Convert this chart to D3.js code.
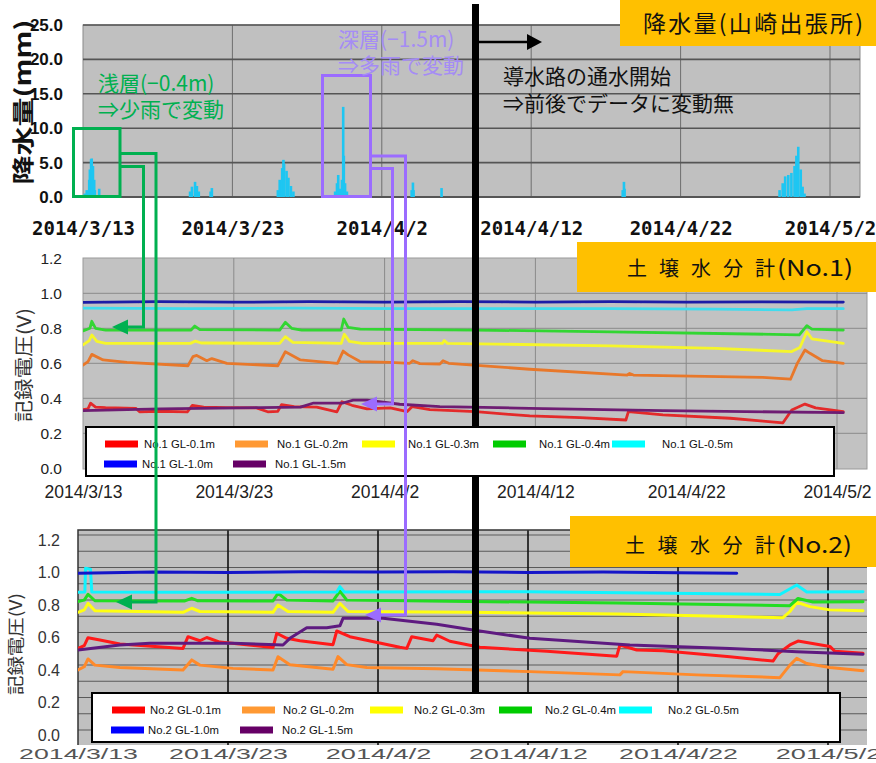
<!DOCTYPE html>
<html><head><meta charset="utf-8">
<script src="https://cdn.jsdelivr.net/npm/d3@7"></script>
<style>body{margin:0;background:#fff}svg{display:block}</style>
</head><body>
<svg id="c" width="876" height="763"></svg>
<script>
const P = s => d3.timeParse("%Y/%m/%d %H")("2014/" + s);

// ---- shared time ticks ----
const tickDates = ["3/13 00","3/23 00","4/2 00","4/12 00","4/22 00","5/2 00"];

// ---- rainfall (mm/h), 山崎出張所 ----
const rainTimes = ["3/13 03","3/13 06","3/13 10","3/13 11","3/13 13","3/13 14","3/13 16","3/13 18","3/13 19","3/14 02",
  "3/20 04","3/20 07","3/20 12","3/20 15","3/20 18","3/21 13","3/21 15",
  "3/26 01","3/26 04","3/26 08","3/26 10","3/26 11","3/26 15","3/26 18","3/26 22","3/27 02",
  "3/29 21","3/30 00","3/30 02","3/30 05","3/30 08","3/30 10","3/30 11","3/30 13","3/30 16",
  "4/4 00","4/4 02","4/4 03","4/6 00",
  "4/18 03","4/18 05","4/18 06",
  "4/28 15","4/28 20","4/29 00","4/29 05","4/29 10","4/29 15","4/29 18","4/29 21","4/30 01","4/30 04","4/30 07"];
const rainValues = [0.5,1.0,2.5,4.0,5.5,5.6,4.5,2.5,1.0,1.2,
  0.8,1.5,2.2,1.6,0.8,0.8,1.3,
  1.0,2.5,4.2,5.4,4.8,3.8,2.8,1.6,0.8,
  0.8,2.0,3.2,1.2,2.5,13.1,6.0,2.0,0.8,
  1.0,2.1,1.0,1.3,
  1.0,2.2,1.2,
  1.0,2.0,3.0,3.2,3.5,4.5,6.0,7.3,4.0,1.5,0.5];
const rainTicks = [0,5,10,15,20,25];

// ---- soil moisture meter No.1 (V) ----
const n1_010 = [["3/13 00",0.335],["3/13 08",0.34],["3/13 12",0.372],["3/13 20",0.35],["3/14 12",0.347],["3/16 12",0.343],["3/16 18",0.323],["3/18 00",0.326],["3/19 22",0.323],["3/20 06",0.36],["3/21 00",0.35],["3/22 12",0.347],["3/24 12",0.345],["3/25 06",0.323],["3/25 22",0.325],["3/26 04",0.364],["3/27 00",0.352],["3/28 12",0.35],["3/29 20",0.323],["3/30 04",0.38],["3/30 20",0.36],["3/31 20",0.34],["4/2 09",0.345],["4/3 12",0.324],["4/3 20",0.353],["4/5 00",0.335],["4/8 01",0.324],["4/11 15",0.299],["4/15 00",0.29],["4/18 00",0.276],["4/18 04",0.324],["4/20 11",0.305],["4/24 22",0.286],["4/28 10",0.26],["4/29 00",0.333],["4/29 21",0.367],["4/30 14",0.345],["5/2 10",0.324]];
const n1_020 = [["3/13 00",0.59],["3/13 08",0.61],["3/13 14",0.651],["3/14 08",0.619],["3/15 22",0.605],["3/19 23",0.586],["3/20 07",0.638],["3/20 13",0.645],["3/21 05",0.615],["3/21 13",0.627],["3/22 13",0.60],["3/25 22",0.586],["3/26 10",0.666],["3/27 10",0.619],["3/29 21",0.60],["3/30 06",0.67],["3/30 14",0.648],["3/31 09",0.61],["4/2 09",0.605],["4/3 16",0.60],["4/3 21",0.615],["4/4 08",0.598],["4/5 16",0.596],["4/5 21",0.615],["4/6 06",0.60],["4/11 15",0.566],["4/18 02",0.533],["4/18 06",0.542],["4/18 12",0.533],["4/27 02",0.52],["4/28 22",0.509],["4/29 09",0.601],["4/29 21",0.676],["4/30 05",0.657],["5/1 01",0.615],["5/2 10",0.60]];
const n1_030 = [["3/13 00",0.705],["3/13 10",0.73],["3/13 14",0.762],["3/13 22",0.725],["3/14 12",0.714],["3/20 03",0.714],["3/20 11",0.727],["3/20 20",0.716],["3/26 01",0.714],["3/26 10",0.752],["3/26 22",0.72],["3/30 03",0.714],["3/30 08",0.766],["3/30 16",0.725],["3/31 12",0.714],["4/5 20",0.714],["4/5 23",0.73],["4/6 04",0.714],["4/17 00",0.70],["4/24 00",0.685],["4/29 00",0.667],["4/29 13",0.69],["4/30 00",0.78],["4/30 08",0.74],["5/2 10",0.714]];
const n1_040 = [["3/13 00",0.785],["3/13 11",0.80],["3/13 14",0.84],["3/13 20",0.80],["3/14 12",0.79],["3/20 04",0.79],["3/20 10",0.813],["3/20 18",0.793],["3/26 01",0.79],["3/26 10",0.834],["3/26 20",0.80],["3/27 12",0.79],["3/30 03",0.79],["3/30 07",0.853],["3/30 14",0.805],["3/31 09",0.795],["4/8 00",0.79],["4/17 00",0.78],["4/29 12",0.763],["4/30 00",0.815],["4/30 08",0.795],["5/2 10",0.79]];
const n1_050 = [["3/13 00",0.915],["3/20 00",0.912],["3/27 00",0.915],["4/3 00",0.913],["4/10 00",0.913],["4/17 00",0.912],["4/24 00",0.91],["4/29 00",0.905],["4/30 00",0.912],["5/2 10",0.912]];
const n1_100 = [["3/13 00",0.948],["3/18 00",0.952],["3/23 00",0.949],["3/28 00",0.952],["4/2 00",0.95],["4/7 00",0.952],["4/12 00",0.95],["4/17 00",0.952],["4/22 00",0.95],["4/27 00",0.951],["5/2 10",0.95]];
const n1_150 = [["3/13 00",0.33],["3/18 03",0.339],["3/24 18",0.347],["3/27 10",0.35],["3/28 07",0.373],["3/30 06",0.373],["3/30 22",0.39],["3/31 20",0.39],["4/3 00",0.366],["4/5 16",0.353],["4/11 15",0.343],["4/20 11",0.329],["5/2 10",0.318]];

// ---- soil moisture meter No.2 (V) ----
const n2_010 = [["3/13 00",0.533],["3/13 10",0.55],["3/13 16",0.599],["3/14 11",0.585],["3/15 19",0.56],["3/20 00",0.533],["3/20 08",0.605],["3/21 03",0.58],["3/21 14",0.60],["3/22 11",0.572],["3/26 00",0.538],["3/26 06",0.626],["3/26 22",0.595],["3/27 19",0.58],["3/30 00",0.556],["3/30 06",0.64],["3/31 03",0.605],["4/3 11",0.54],["4/3 22",0.533],["4/4 06",0.605],["4/5 16",0.58],["4/5 22",0.615],["4/6 19",0.577],["4/8 19",0.54],["4/13 06",0.515],["4/17 22",0.485],["4/18 03",0.554],["4/19 06",0.523],["4/21 00",0.518],["4/25 11",0.482],["4/28 08",0.455],["4/28 16",0.50],["4/29 11",0.554],["4/30 00",0.578],["5/2 03",0.545],["5/2 11",0.515],["5/4 08",0.503]];
const n2_020 = [["3/13 00",0.40],["3/13 10",0.42],["3/13 16",0.468],["3/14 03",0.43],["3/15 19",0.415],["3/20 00",0.40],["3/20 14",0.462],["3/21 03",0.43],["3/23 08",0.41],["3/26 00",0.40],["3/26 08",0.482],["3/27 03",0.433],["3/30 00",0.405],["3/30 08",0.482],["3/30 22",0.433],["4/1 06",0.415],["4/5 22",0.408],["4/12 03",0.39],["4/18 03",0.37],["4/18 08",0.39],["4/23 06",0.37],["4/28 19",0.353],["4/29 11",0.43],["4/29 22",0.472],["4/30 14",0.44],["5/2 03",0.415],["5/4 08",0.396]];
const n2_030 = [["3/13 00",0.755],["3/13 10",0.77],["3/13 16",0.81],["3/14 03",0.765],["3/20 00",0.755],["3/20 14",0.78],["3/21 03",0.76],["3/26 00",0.755],["3/26 08",0.80],["3/27 00",0.76],["3/30 00",0.755],["3/30 11",0.81],["3/31 00",0.76],["4/8 00",0.755],["4/18 00",0.745],["4/29 00",0.722],["4/29 11",0.76],["4/29 22",0.817],["4/30 19",0.79],["5/2 03",0.77],["5/4 08",0.765]];
const n2_040 = [["3/13 00",0.822],["3/13 10",0.83],["3/13 16",0.866],["3/14 03",0.826],["3/20 03",0.825],["3/20 14",0.841],["3/21 00",0.826],["3/26 00",0.825],["3/26 08",0.872],["3/26 22",0.83],["3/30 00",0.825],["3/30 11",0.886],["3/30 22",0.83],["4/8 00",0.822],["4/18 00",0.812],["4/29 11",0.796],["4/30 00",0.84],["5/1 00",0.818],["5/4 08",0.82]];
const n2_050 = [["3/13 00",0.878],["3/13 11",0.88],["3/13 12",1.026],["3/13 20",1.02],["3/13 22",0.88],["3/20 00",0.878],["3/30 06",0.88],["3/30 11",0.913],["3/30 18",0.88],["4/12 00",0.882],["4/28 19",0.865],["4/29 22",0.923],["4/30 14",0.88],["5/4 08",0.882]];
const n2_100 = [["3/13 00",0.995],["3/18 00",1.003],["3/23 00",1.0],["3/28 00",1.005],["4/2 00",1.003],["4/7 00",1.005],["4/12 00",1.0],["4/17 00",1.003],["4/22 00",0.998],["4/25 22",0.995]];
const n2_150 = [["3/13 00",0.523],["3/15 19",0.554],["3/17 19",0.564],["3/23 08",0.564],["3/26 16",0.554],["3/27 03",0.595],["3/28 06",0.66],["3/29 14",0.66],["3/30 11",0.672],["3/30 16",0.718],["4/2 08",0.718],["4/5 22",0.681],["4/8 08",0.646],["4/12 03",0.595],["4/18 19",0.554],["4/25 11",0.533],["4/29 22",0.513],["5/4 08",0.497]];

const voltTicks = [0,0.2,0.4,0.6,0.8,1.0,1.2];
const depthLabels = ["GL-0.1m","GL-0.2m","GL-0.3m","GL-0.4m","GL-0.5m","GL-1.0m","GL-1.5m"];
const legendColors = ["#ff0000","#ff9933","#ffff00","#00cc00","#00ffff","#0000ff","#660066"];
const no1Colors = ["#e32a2a","#e8782c","#f6f62c","#33d633","#3fdcee","#1c1ca6","#6e1f73"];
const no2Colors = ["#ff1a1a","#ff8a2a","#ffff10","#22dd22","#10f4ff","#1414c8","#5e1a80"];

const svg = d3.select("#c");
const CJK = "'Noto Sans CJK JP', 'Noto Sans', sans-serif";
const fmtDate = d3.timeFormat("%Y/%-m/%-d");
const tickT = tickDates.map(P);
const t0 = P("3/13 00"), t1 = P("5/2 00");

const defs = svg.append("defs");
function clip(id, x, y, w, h) {
  defs.append("clipPath").attr("id", id).append("rect").attr("x", x).attr("y", y).attr("width", w).attr("height", h);
  return `url(#${id})`;
}
defs.append("filter").attr("id","soft").append("feGaussianBlur").attr("stdDeviation", 0.45);

function drawLines(g, series, x, y, colors, w) {
  const line = d3.line().x(d => x(d[0])).y(d => y(d[1]));
  series.forEach((s, i) => {
    g.append("path").datum(s.map(([t, v]) => [P(t), v]))
      .attr("fill", "none").attr("stroke", colors[i]).attr("stroke-width", w)
      .attr("stroke-linejoin", "round").attr("stroke-linecap", "round")
      .attr("d", line);
  });
}

// ================= rainfall panel =================
const xTop = d3.scaleTime().domain([t0, t1]).range([83, 830]);
const yTop = d3.scaleLinear().domain([0, 25]).range([197, 25]);
svg.append("rect").attr("x", 83).attr("y", 25).attr("width", 777).attr("height", 172)
  .attr("fill", "#c0c0c0").attr("stroke", "#8a8a8a");
svg.append("g").selectAll("line").data(tickT.slice(1)).join("line")
  .attr("x1", d => xTop(d)).attr("x2", d => xTop(d)).attr("y1", 25).attr("y2", 197)
  .attr("stroke", "#6e6e6e").attr("stroke-width", 1);
svg.append("g").selectAll("line").data(rainTicks).join("line")
  .attr("x1", 83).attr("x2", 860).attr("y1", d => yTop(d)).attr("y2", d => yTop(d))
  .attr("stroke", "#555").attr("stroke-width", d => d === 0 ? 2.2 : 1.6);
svg.append("g").attr("clip-path", clip("cTop", 83, 25, 777, 172))
  .selectAll("rect").data(rainTimes.map((t, i) => [P(t), rainValues[i]])).join("rect")
  .attr("x", d => xTop(d[0]) - 1.3).attr("width", 2.6)
  .attr("y", d => yTop(d[1])).attr("height", d => yTop(0) - yTop(d[1]))
  .attr("fill", "#1ec6f2");

const axTopY = svg.append("g").attr("transform", "translate(63,0)")
  .call(d3.axisLeft(yTop).tickValues(rainTicks).tickFormat(d3.format(".1f")).tickSize(0).tickPadding(0));
axTopY.select(".domain").remove();
axTopY.selectAll("text").attr("font-family", "'Liberation Sans', Arial, sans-serif")
  .attr("font-size", 17).attr("font-weight", "bold").attr("fill", "#111");
const axTopX = svg.append("g").attr("transform", "translate(0,197)")
  .call(d3.axisBottom(xTop).tickValues(tickT).tickFormat(fmtDate).tickSize(0));
axTopX.select(".domain").remove();
axTopX.selectAll("text").attr("y", 38).attr("dy", null)
  .attr("font-family", "'DejaVu Sans Mono', monospace").attr("font-size", 19)
  .attr("font-weight", "bold").attr("fill", "#111");
svg.append("text").attr("transform", "translate(31,102) rotate(-90)")
  .attr("text-anchor", "middle").attr("font-family", CJK).attr("font-size", 22).attr("font-weight", "bold")
  .attr("textLength", 165).attr("lengthAdjust", "spacingAndGlyphs").attr("fill", "#111")
  .text("降水量(mm)");

// ================= soil moisture No.1 =================
const xMid = d3.scaleTime().domain([t0, t1]).range([83, 837]);
const yMid = d3.scaleLinear().domain([0, 1.2]).range([468.3, 258.3]);
svg.append("rect").attr("x", 83).attr("y", 258).attr("width", 784).attr("height", 211)
  .attr("fill", "#c2c2c2").attr("stroke", "#9a9a9a");
svg.append("g").selectAll("line").data(tickT.slice(1)).join("line")
  .attr("x1", d => xMid(d)).attr("x2", d => xMid(d)).attr("y1", 258).attr("y2", 469)
  .attr("stroke", "#8a8a8a");
svg.append("g").selectAll("line").data(voltTicks.slice(1, -1)).join("line")
  .attr("x1", 83).attr("x2", 867).attr("y1", d => yMid(d)).attr("y2", d => yMid(d))
  .attr("stroke", "#8a8a8a");
const gMid = svg.append("g").attr("clip-path", clip("cMid", 83, 258, 784, 211))
  .append("g").attr("filter", "url(#soft)");
drawLines(gMid, [n1_010, n1_020, n1_030, n1_040, n1_050, n1_100, n1_150], xMid, yMid, no1Colors, 2.8);

const axMidY = svg.append("g").attr("transform", "translate(62,0)")
  .call(d3.axisLeft(yMid).tickValues(voltTicks).tickFormat(d3.format(".1f")).tickSize(0).tickPadding(0));
axMidY.select(".domain").remove();
axMidY.selectAll("text").attr("font-family", "'Liberation Sans', Arial, sans-serif")
  .attr("font-size", 15.5).attr("fill", "#222");
const axMidX = svg.append("g").attr("transform", "translate(0,469)")
  .call(d3.axisBottom(xMid).tickValues(tickT).tickFormat(fmtDate).tickSize(0));
axMidX.select(".domain").remove();
axMidX.selectAll("text").attr("y", 29).attr("dy", null)
  .attr("font-family", "'Liberation Sans', Arial, sans-serif").attr("font-size", 17.5).attr("fill", "#222");
svg.append("text").attr("transform", "translate(31,365) rotate(-90)")
  .attr("text-anchor", "middle").attr("font-family", CJK).attr("font-size", 19)
  .attr("textLength", 114).attr("lengthAdjust", "spacingAndGlyphs").attr("fill", "#333")
  .text("記録電圧(V)");

// ================= soil moisture No.2 =================
const xBot = d3.scaleTime().domain([t0, t1]).range([78, 828]);
const yBot = d3.scaleLinear().domain([0, 1.2]).range([735, 540]);
const botGrid = d3.range(13).map(i => +(i / 10).toFixed(1));
svg.append("rect").attr("x", 78).attr("y", 530).attr("width", 789).attr("height", 215)
  .attr("fill", "#c0c0c0");
svg.append("g").selectAll("line").data(botGrid).join("line")
  .attr("x1", 78).attr("x2", 867).attr("y1", d => yBot(d) - 5).attr("y2", d => yBot(d) - 5)
  .attr("stroke", "#5a5a5a");
svg.append("g").selectAll("line").data(tickT.slice(1)).join("line")
  .attr("x1", d => xBot(d)).attr("x2", d => xBot(d)).attr("y1", 530).attr("y2", 745)
  .attr("stroke", "#111").attr("stroke-width", 1.6);
svg.append("path").attr("d", "M78,745V530H867").attr("fill", "none").attr("stroke", "#333").attr("stroke-width", 1.5);
const gBot = svg.append("g").attr("clip-path", clip("cBot", 78, 530, 789, 215));
drawLines(gBot, [n2_010, n2_020, n2_030, n2_040, n2_050, n2_100, n2_150], xBot, yBot, no2Colors, 3);

const axBotY = svg.append("g").attr("transform", "translate(60,0)")
  .call(d3.axisLeft(yBot).tickValues(voltTicks).tickFormat(d3.format(".1f")).tickSize(0).tickPadding(0));
axBotY.select(".domain").remove();
axBotY.selectAll("text").attr("font-family", "'Liberation Sans', Arial, sans-serif")
  .attr("font-size", 16).attr("fill", "#333");
const axBotX = svg.append("g").attr("transform", "translate(0,745)")
  .call(d3.axisBottom(xBot).tickValues(tickT).tickFormat(fmtDate).tickSize(0));
axBotX.select(".domain").remove();
axBotX.selectAll("text").attr("y", 13.5).attr("dy", null)
  .attr("font-family", "'Liberation Sans', Arial, sans-serif").attr("font-size", 15)
  .attr("textLength", d => fmtDate(d).length * 13.2).attr("lengthAdjust", "spacingAndGlyphs")
  .attr("fill", "#555");
svg.append("text").attr("transform", "translate(21.5,644) rotate(-90)")
  .attr("text-anchor", "middle").attr("font-family", CJK).attr("font-size", 17)
  .attr("textLength", 102).attr("lengthAdjust", "spacingAndGlyphs").attr("fill", "#333")
  .text("記録電圧(V)");

// ================= water-channel start marker =================
svg.append("rect").attr("x", 472).attr("y", 4).attr("width", 7).attr("height", 688).attr("fill", "#000");
svg.append("line").attr("x1", 479).attr("x2", 528).attr("y1", 42).attr("y2", 42)
  .attr("stroke", "#000").attr("stroke-width", 2.5);
svg.append("path").attr("d", "M527,34L542,42L527,50Z").attr("fill", "#000");
[["導水路の通水開始", 83.5], ["⇒前後でデータに変動無", 110.5]].forEach(([t, y]) =>
  svg.append("text").attr("x", 503).attr("y", y).attr("font-family", CJK).attr("font-size", 21)
    .attr("fill", "#111").text(t));

// ================= legends =================
function legend(x0, y0, w, h, prefix, rows) {
  const g = svg.append("g");
  g.append("rect").attr("x", x0).attr("y", y0).attr("width", w).attr("height", h)
    .attr("fill", "#fff").attr("stroke", "#000").attr("stroke-width", 2);
  rows.forEach(([i, sx, tx, cy]) => {
    g.append("rect").attr("x", sx).attr("y", cy - 3.5).attr("width", 33).attr("height", 7).attr("fill", legendColors[i]);
    g.append("text").attr("x", tx).attr("y", cy + 4).attr("font-family", "'Liberation Sans', Arial, sans-serif")
      .attr("font-size", 11.3).attr("fill", "#111").text(prefix + " " + depthLabels[i]);
  });
}
legend(86, 427, 748, 49, "No.1", [[0,105,144,444],[1,235,277,444],[2,362,408,444],[3,493,539,444],[4,612,662,444],[5,104,142,464],[6,233,275,464]]);
legend(92, 693, 748, 49, "No.2", [[0,112,150,710],[1,242,283,710],[2,370,414,710],[3,499,545,710],[4,619,668,710],[5,111,148,730],[6,240,282,730]]);

// ================= annotations =================
const GREEN = "#00b050", PURPLE = "#9b6cff";
function connector(pts, color, tip) {
  svg.append("polyline").attr("points", pts.map(p => p.join(",")).join(" "))
    .attr("fill", "none").attr("stroke", color).attr("stroke-width", 3);
  svg.append("path").attr("d", `M${tip[0]},${tip[1]}L${tip[0] + 16},${tip[1] - 7.5}L${tip[0] + 16},${tip[1] + 7.5}Z`)
    .attr("fill", color);
}
svg.append("rect").attr("x", 73.5).attr("y", 128.5).attr("width", 46.5).attr("height", 68)
  .attr("fill", "none").attr("stroke", GREEN).attr("stroke-width", 3);
connector([[120,166.5],[143.5,166.5],[143.5,327],[128,327]], GREEN, [112,327]);
connector([[120,153.5],[156,153.5],[156,602],[132,602]], GREEN, [116,602]);
svg.append("rect").attr("x", 322.5).attr("y", 75.5).attr("width", 48).attr("height", 121)
  .attr("fill", "none").attr("stroke", PURPLE).attr("stroke-width", 3);
connector([[370,168.5],[392.5,168.5],[392.5,404],[377,404]], PURPLE, [361,404]);
connector([[370,156],[405.5,156],[405.5,615],[381,615]], PURPLE, [365,615]);

[["浅層(−0.4m)", 98, 91], ["⇒少雨で変動", 98, 116.5]].forEach(([t, x, y]) =>
  svg.append("text").attr("x", x).attr("y", y).attr("font-family", CJK).attr("font-size", 21)
    .attr("fill", GREEN).text(t));
[["深層(−1.5m)", 338, 47], ["⇒多雨で変動", 338, 73]].forEach(([t, x, y]) =>
  svg.append("text").attr("x", x).attr("y", y).attr("font-family", CJK).attr("font-size", 21)
    .attr("fill", "#a58cf5").text(t));

// ================= panel titles =================
function titleBox(x, y, w, h) {
  svg.append("rect").attr("x", x).attr("y", y).attr("width", w).attr("height", h).attr("fill", "#ffc000");
}
function titleText(text, tx, ty, size, len, adjust) {
  svg.append("text").attr("x", tx).attr("y", ty).attr("font-family", CJK).attr("font-size", size)
    .attr("fill", "#111").attr("textLength", len).attr("lengthAdjust", adjust).text(text);
}
titleBox(620, 0, 256, 46);
titleText("降水量(山崎出張所)", 643, 31.5, 23, 220, "spacing");
titleBox(577, 242, 299, 50);
titleText("土 壌 水 分 計", 627, 276, 20, 148, "spacing");
titleText("(No.1)", 777, 276, 22, 76, "spacingAndGlyphs");
titleBox(570, 516, 306, 51);
titleText("土 壌 水 分 計", 625, 552.5, 20, 150, "spacing");
titleText("(No.2)", 777, 552.5, 22, 75, "spacingAndGlyphs");
</script>
</body></html>
